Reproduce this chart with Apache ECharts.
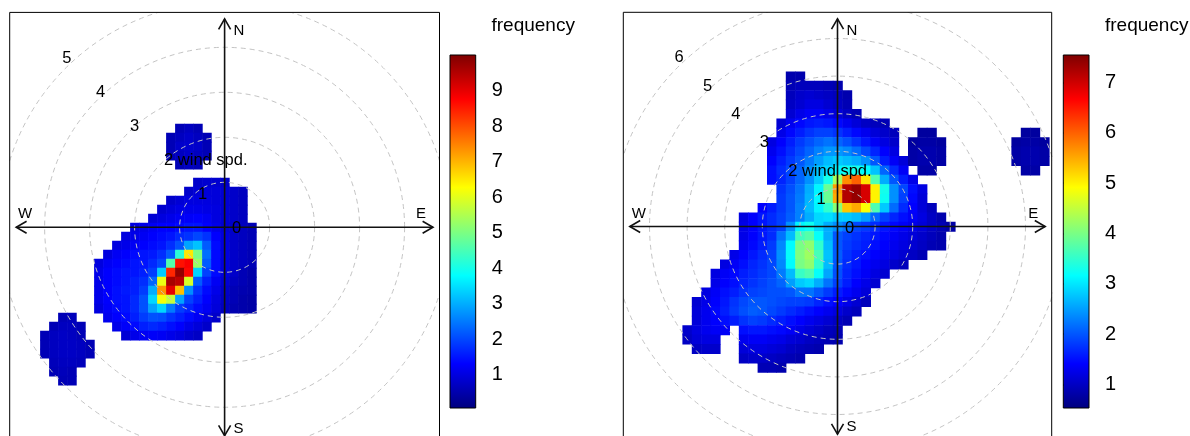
<!DOCTYPE html>
<html>
<head>
<meta charset="utf-8">
<script src="https://cdn.jsdelivr.net/npm/echarts@6/dist/echarts.min.js"></script>
<style>html,body{margin:0;padding:0;background:#fff}#c{width:1190px;height:436px}</style>
</head>
<body>
<div id="c"></div>
<script>
const _ = null;
const __ = n => Array(n).fill(null);

// ---------- LEFT PANEL DATA ----------
const leftCellX = [-4.0,-3.8,-3.6,-3.4,-3.2,-3.0,-2.8,-2.6,-2.4,-2.2,-2.0,-1.8,-1.6,-1.4,-1.2,-1.0,-0.8,-0.6,-0.4,-0.2,0.0,0.2,0.4,0.6,0.8];
const leftCellY = [2.2,2.0,1.8,1.6,1.4,1.2,1.0,0.8,0.6,0.4,0.2,0.0,-0.2,-0.4,-0.6,-0.8,-1.0,-1.2,-1.4,-1.6,-1.8,-2.0,-2.2,-2.4,-2.6,-2.8,-3.0,-3.2,-3.4];
const leftFreq = [
  [...__(15), .6, .7, .6],
  [...__(14), .6, .7, .8, .7, .6],
  [...__(14), .6, .8, .85, .8, .6],
  [...__(14), .6, .7, .8, .7, .6],
  [...__(15), .6, .7, .6],
  [],
  [...__(17), .8, .85, .85, .8],
  [...__(16), .8, .9, .95, .95, .9, .8, .7],
  [...__(14), .8, .9, 1.0, 1.0, 1.0, .95, .9, .8, .7],
  [...__(13), .85, .95, 1.05, 1.1, 1.1, 1.05, 1.0, .9, .8, .7],
  [...__(12), .9, 1.0, 1.1, 1.2, 1.25, 1.3, 1.2, 1.0, .9, .8, .7],
  [...__(10), 1.0, 1.1, 1.2, 1.3, 1.3, 1.4, 1.5, 1.5, 1.3, 1.1, .9, .8, .7, .6],
  [...__(9), 1.0, 1.1, 1.2, 1.3, 1.4, 1.5, 1.7, 1.8, 2.0, 1.8, 1.3, 1.0, .8, .7, .6],
  [...__(8), 1.0, 1.1, 1.2, 1.3, 1.4, 1.5, 1.75, 2.1, 2.9, 3.2, 2.2, 1.4, 1.0, .8, .7, .6],
  [...__(7), 1.0, 1.2, 1.3, 1.4, 1.5, 1.55, 1.75, 2.2, 4.2, 6.5, 5.0, 2.4, 1.4, 1.0, .8, .7, .6],
  [...__(6), 1.0, 1.2, 1.3, 1.4, 1.5, 1.5, 1.7, 2.0, 4.6, 8.6, 8.8, 5.3, 2.2, 1.4, 1.0, .8, .7, .6],
  [...__(6), 1.1, 1.3, 1.4, 1.5, 1.5, 1.6, 1.9, 3.3, 8.4, 9.8, 8.7, 3.4, 1.95, 1.4, 1.0, .8, .6, .5],
  [...__(6), 1.1, 1.3, 1.4, 1.5, 1.6, 1.75, 2.3, 6.1, 9.6, 9.4, 5.9, 2.2, 1.6, 1.2, .9, .7, .6, .5],
  [...__(6), 1.1, 1.3, 1.45, 1.55, 1.6, 1.9, 3.0, 7.3, 9.0, 6.9, 2.7, 1.8, 1.4, 1.1, .8, .6, .55, .5],
  [...__(6), 1.1, 1.3, 1.45, 1.5, 1.7, 2.1, 3.4, 6.2, 5.7, 2.9, 1.95, 1.6, 1.3, 1.0, .75, .6, .5, .45],
  [...__(6), 1.0, 1.25, 1.4, 1.5, 1.7, 2.1, 2.9, 3.4, 2.5, 1.9, 1.65, 1.4, 1.2, .95, .7, .55, .5, .45],
  [_, _, .6, .65, _, _, _, 1.15, 1.3, 1.4, 1.6, 1.9, 2.1, 2.05, 1.8, 1.6, 1.4, 1.2, 1.0, .8],
  [_, .6, .7, .7, .6, _, _, _, 1.1, 1.25, 1.4, 1.6, 1.7, 1.6, 1.45, 1.3, 1.1, .95, .8],
  [.6, .7, .75, .7, .6, _, _, _, _, .9, 1.1, 1.2, 1.25, 1.2, 1.1, 1.0, .85, .75],
  [.6, .7, .75, .75, .7, .6],
  [.6, .7, .75, .75, .7, .6],
  [_, .65, .7, .7, .65],
  [_, .6, .65, .6],
  [_, _, .6, .6]
];
const leftRings = [1, 2, 3, 4, 5];
const leftRingLabels = ['0', '1', '2 wind spd.', '3', '4', '5'];
const leftColorTicks = [1, 2, 3, 4, 5, 6, 7, 8, 9];
const leftColorRange = [0.07, 10.0];

// ---------- RIGHT PANEL DATA ----------
const rightCellX = [-4.0,-3.75,-3.5,-3.25,-3.0,-2.75,-2.5,-2.25,-2.0,-1.75,-1.5,-1.25,-1.0,-0.75,-0.5,-0.25,0,0.25,0.5,0.75,1.0,1.25,1.5,1.75,2.0,2.25,2.5,2.75,3.0,3.25,3.5,3.75,4.0,4.25,4.5,4.75,5.0,5.25,5.5];
const rightCellY = [4.0,3.75,3.5,3.25,3.0,2.75,2.5,2.25,2.0,1.75,1.5,1.25,1.0,0.75,0.5,0.25,0,-0.25,-0.5,-0.75,-1.0,-1.25,-1.5,-1.75,-2.0,-2.25,-2.5,-2.75,-3.0,-3.25,-3.5,-3.75,-4.0];
const rightFreq = [
  [...__(11), .85, .85],
  [...__(11), .9, .95, .95, .95, .9, .85],
  [...__(11), .95, 1.05, 1.1, 1.05, 1.0, .95, .85],
  [...__(11), 1.0, 1.1, 1.2, 1.2, 1.1, 1.0, .9],
  [...__(11), 1.1, 1.25, 1.35, 1.35, 1.25, 1.15, 1.0, .9],
  [...__(10), 1.1, 1.3, 1.45, 1.55, 1.6, 1.55, 1.45, 1.3, 1.15, 1.0, .95, .9],
  [...__(10), 1.25, 1.45, 1.6, 1.75, 1.85, 1.85, 1.75, 1.6, 1.45, 1.3, 1.15, 1.05, .95, _, _, .75, .75, ...__(9), .75, .75],
  [...__(9), 1.2, 1.4, 1.6, 1.8, 1.95, 2.1, 2.2, 2.1, 1.95, 1.75, 1.55, 1.35, 1.2, 1.05, _, .75, .8, .8, .75, ...__(7), .75, .8, .8, .75],
  [...__(9), 1.3, 1.5, 1.7, 1.9, 2.1, 2.3, 2.45, 2.45, 2.35, 2.15, 1.9, 1.65, 1.4, 1.2, _, .8, .85, .85, .8, ...__(7), .8, .85, .85, .8],
  [...__(9), 1.4, 1.6, 1.8, 2.0, 2.25, 2.5, 2.7, 2.8, 2.7, 2.6, 2.4, 2.0, 1.6, 1.35, 1.15, .8, .85, .85, .8, ...__(7), .8, .85, .85, .8],
  [...__(9), 1.5, 1.7, 1.9, 2.1, 2.4, 2.75, 2.9, 3.1, 3.25, 3.3, 3.15, 2.75, 2.1, 1.7, 1.35, _, .8, .8, ...__(9), .8, .8],
  [...__(9), 1.5, 1.65, 1.85, 2.1, 2.4, 2.8, 3.3, 4.3, 5.7, 6.0, 5.1, 3.7, 2.6, 2.0, 1.6, 1.25],
  [...__(10), 1.75, 1.95, 2.2, 2.6, 3.1, 3.9, 5.6, 7.2, 7.4, 6.95, 5.0, 3.3, 2.4, 1.9, 1.5, 1.2],
  [...__(10), 1.8, 2.0, 2.25, 2.65, 3.15, 3.9, 5.5, 7.2, 7.4, 6.95, 5.0, 3.25, 2.4, 1.85, 1.45, 1.15],
  [...__(8), 1.4, 1.6, 1.8, 2.0, 2.3, 2.7, 3.1, 3.5, 4.1, 5.3, 5.5, 4.9, 3.7, 2.8, 2.15, 1.7, 1.4, 1.15, .95],
  [...__(6), 1.2, 1.4, 1.55, 1.7, 1.85, 2.05, 2.3, 2.6, 2.9, 2.95, 2.8, 2.8, 2.7, 2.5, 2.1, 1.85, 1.65, 1.5, 1.35, 1.2, 1.0, .85],
  [...__(6), 1.25, 1.4, 1.55, 1.7, 1.85, 2.4, 3.1, 3.25, 2.9, 2.6, 2.4, 2.2, 1.9, 1.8, 1.7, 1.55, 1.45, 1.35, 1.25, 1.15, 1.0, .9, .8],
  [...__(6), 1.25, 1.4, 1.55, 1.7, 2.2, 2.7, 3.6, 3.75, 3.2, 2.6, 2.0, 1.85, 1.75, 1.65, 1.55, 1.45, 1.35, 1.25, 1.15, 1.05, .95, .85],
  [...__(6), 1.3, 1.45, 1.6, 1.8, 2.35, 3.15, 4.0, 4.15, 3.5, 2.7, 2.0, 1.8, 1.7, 1.6, 1.5, 1.4, 1.3, 1.2, 1.1, 1.0, .9, .85],
  [...__(5), 1.25, 1.4, 1.55, 1.7, 1.85, 2.4, 3.2, 4.05, 4.25, 3.65, 2.75, 2.05, 1.75, 1.6, 1.5, 1.4, 1.3, 1.2, 1.1, 1.0, .9],
  [...__(4), 1.2, 1.35, 1.5, 1.65, 1.75, 1.9, 2.35, 3.15, 4.0, 4.15, 3.5, 2.7, 2.0, 1.7, 1.55, 1.4, 1.3, 1.2, 1.05, .95],
  [...__(3), 1.2, 1.35, 1.45, 1.6, 1.7, 1.8, 1.9, 2.25, 2.7, 3.55, 3.7, 3.2, 2.55, 1.95, 1.65, 1.5, 1.35, 1.2, 1.1],
  [...__(3), 1.25, 1.4, 1.5, 1.65, 1.75, 1.85, 1.95, 2.1, 2.5, 2.8, 2.9, 2.6, 2.2, 1.85, 1.6, 1.4, 1.25, 1.1],
  [...__(2), 1.2, 1.35, 1.5, 1.6, 1.75, 1.85, 1.9, 1.95, 1.95, 2.0, 2.2, 2.2, 2.0, 1.8, 1.6, 1.45, 1.3, 1.15],
  [_, 1.1, 1.25, 1.4, 1.55, 1.75, 1.9, 2.0, 2.0, 1.95, 1.9, 1.85, 1.85, 1.8, 1.65, 1.5, 1.4, 1.25, 1.1, .95],
  [_, 1.15, 1.3, 1.45, 1.6, 1.8, 1.95, 2.05, 2.0, 1.9, 1.8, 1.7, 1.6, 1.5, 1.4, 1.3, 1.2, 1.05, .95],
  [_, 1.15, 1.3, 1.4, 1.5, 1.6, 1.75, 1.85, 1.8, 1.7, 1.6, 1.5, 1.4, 1.3, 1.2, 1.1, 1.0, .9],
  [1.05, 1.2, 1.3, 1.35, 1.35, _, 1.5, 1.55, 1.55, 1.5, 1.45, 1.35, 1.25, 1.15, 1.05, .95, .9],
  [1.0, 1.15, 1.2, 1.2, _, _, 1.3, 1.35, 1.35, 1.3, 1.25, 1.15, 1.1, 1.0, .95, .9, .85],
  [_, 1.0, 1.05, 1.05, _, _, 1.15, 1.2, 1.2, 1.15, 1.1, 1.0, .95, .9, .85],
  [...__(6), 1.0, 1.05, 1.05, 1.0, .95, .9, .85],
  [...__(8), .9, .9, .85],
  []
];
const rightRings = [1, 2, 3, 4, 5, 6];
const rightRingLabels = ['0', '1', '2 wind spd.', '3', '4', '5', '6'];
const rightColorTicks = [1, 2, 3, 4, 5, 6, 7];
const rightColorRange = [0.53, 7.55];

const compass = ['N', 'E', 'S', 'W'];
const colorbarTitle = 'frequency';

// ---------- STYLE / LAYOUT ----------
const FONT = 'Liberation Sans, Arial, Helvetica, sans-serif';
const jet = ['#00007F','#0000FF','#007FFF','#00FFFF','#7FFF7F','#FFFF00','#FF7F00','#FF0000','#7F0000'];
const panelL = { left: 9.7, top: 12.4, size: 429.8, half: 4.776 };
const panelR = { left: 623.3, top: 12.3, size: 428.4, half: 5.697 };
const cbarL = { left: 450, top: 55, width: 25.7, height: 353 };
const cbarR = { left: 1063.3, top: 55, width: 25.7, height: 353 };

function toCells(xs, ys, m) {
  const out = [];
  m.forEach((row, j) => row.forEach((v, i) => { if (v !== null && v !== undefined) out.push([xs[i], ys[j], v]); }));
  return out;
}

function cellRenderer(half) {
  return function (params, api) {
    const x = api.value(0), y = api.value(1);
    const p0 = api.coord([x - half, y + half]);
    const p1 = api.coord([x + half, y - half]);
    return { type: 'rect', shape: { x: p0[0], y: p0[1], width: p1[0] - p0[0] + 0.6, height: p1[1] - p0[1] + 0.6 },
      style: { fill: api.visual('color') } };
  };
}
function ringRenderer(params, api) {
  const c = api.coord([0, 0]);
  const e = api.coord([api.value(0), 0]);
  return { type: 'circle', shape: { cx: c[0], cy: c[1], r: e[0] - c[0] },
    style: { fill: null, stroke: '#c4c4c4', lineWidth: 1, lineDash: [5, 4] } };
}
function compassRenderer(halfRange) {
  return function (params, api) {
    const name = compass[params.dataIndex];
    const c = api.coord([0, 0]);
    const len = api.coord([halfRange, 0])[0] - c[0] - 6.5;
    const d = { N: [0, -1], E: [1, 0], S: [0, 1], W: [-1, 0] }[name];
    const tip = [c[0] + d[0] * len, c[1] + d[1] * len];
    const a = Math.PI / 6, L = 12;
    const rot = (v, t) => [v[0] * Math.cos(t) - v[1] * Math.sin(t), v[0] * Math.sin(t) + v[1] * Math.cos(t)];
    const b1 = rot([-d[0], -d[1]], a), b2 = rot([-d[0], -d[1]], -a);
    const lbl = { N: [9, 12, 'left'], S: [9, -7, 'left'], W: [9, -13, 'center'], E: [-12, -13, 'center'] }[name];
    return { type: 'group', children: [
      { type: 'line', shape: { x1: c[0], y1: c[1], x2: tip[0], y2: tip[1] }, style: { stroke: '#111', lineWidth: 1.6 } },
      { type: 'polyline', shape: { points: [[tip[0] + b1[0] * L, tip[1] + b1[1] * L], tip, [tip[0] + b2[0] * L, tip[1] + b2[1] * L]] },
        style: { stroke: '#111', lineWidth: 1.6, fill: null } },
      { type: 'text', x: tip[0] + lbl[0], y: tip[1] + lbl[1],
        style: { text: name, fontSize: 15, fontFamily: FONT, fill: '#000', align: lbl[2], verticalAlign: 'middle' } }
    ] };
  };
}
function ringLabelRenderer(labels) {
  return function (params, api) {
    const p = api.coord([api.value(0), api.value(1)]);
    return { type: 'text', x: p[0] + 12 - 4.6, y: p[1] + 1.5,
      style: { text: labels[params.dataIndex], fontSize: 16.5, fontFamily: FONT, fill: '#000', align: 'left', verticalAlign: 'middle' } };
  };
}
function colorbarRenderer(range) {
  return function (params, api) {
    const p0 = api.coord([0, range[1]]);
    const p1 = api.coord([1, range[0]]);
    return { type: 'rect', shape: { x: p0[0], y: p0[1], width: p1[0] - p0[0], height: p1[1] - p0[1] },
      style: { fill: { type: 'linear', x: 0, y: 1, x2: 0, y2: 0,
        colorStops: jet.map((c, i) => ({ offset: i / (jet.length - 1), color: c })) } } };
  };
}

function panelGrid(p) {
  return { left: p.left, top: p.top, width: p.size, height: p.size, show: true, borderColor: '#000', borderWidth: 1,
    backgroundColor: 'transparent', z: 5, outerBoundsMode: 'none', containLabel: false };
}
function cbarGrid(b) {
  return { left: b.left, top: b.top, width: b.width, height: b.height, show: true, borderColor: '#000', borderWidth: 1,
    backgroundColor: 'transparent', z: 5, outerBoundsMode: 'none', containLabel: false };
}
function panelAxis(gi, half) { return { gridIndex: gi, type: 'value', min: -half, max: half, show: false }; }
function cbarY(gi, range, ticks) {
  return { gridIndex: gi, type: 'value', min: range[0], max: range[1], position: 'right',
    axisLine: { show: false }, splitLine: { show: false },
    axisTick: { show: true, customValues: ticks, length: 7, inside: false, lineStyle: { color: '#000', width: 1.5 } },
    axisLabel: { show: true, customValues: ticks, fontSize: 20, fontFamily: FONT, color: '#000', margin: 16 } };
}

const option = {
  animation: false,
  backgroundColor: '#fff',
  title: [
    { text: colorbarTitle, left: 491.5, top: 16, padding: 0, textStyle: { fontSize: 19, fontWeight: 'normal', color: '#000', fontFamily: FONT } },
    { text: colorbarTitle, left: 1105, top: 16, padding: 0, textStyle: { fontSize: 19, fontWeight: 'normal', color: '#000', fontFamily: FONT } }
  ],
  grid: [panelGrid(panelL), cbarGrid(cbarL), panelGrid(panelR), cbarGrid(cbarR)],
  xAxis: [
    panelAxis(0, panelL.half),
    { gridIndex: 1, type: 'value', min: 0, max: 1, show: false },
    panelAxis(2, panelR.half),
    { gridIndex: 3, type: 'value', min: 0, max: 1, show: false }
  ],
  yAxis: [
    panelAxis(0, panelL.half),
    cbarY(1, leftColorRange, leftColorTicks),
    panelAxis(2, panelR.half),
    cbarY(3, rightColorRange, rightColorTicks)
  ],
  visualMap: [
    { type: 'continuous', show: false, seriesIndex: 0, dimension: 2, min: leftColorRange[0], max: leftColorRange[1], inRange: { color: jet } },
    { type: 'continuous', show: false, seriesIndex: 5, dimension: 2, min: rightColorRange[0], max: rightColorRange[1], inRange: { color: jet } }
  ],
  series: [
    { type: 'custom', xAxisIndex: 0, yAxisIndex: 0, clip: true, z: 2, silent: true,
      renderItem: cellRenderer((leftCellX[1] - leftCellX[0]) / 2), data: toCells(leftCellX, leftCellY, leftFreq) },
    { type: 'custom', xAxisIndex: 0, yAxisIndex: 0, clip: true, z: 3, silent: true,
      renderItem: ringRenderer, data: leftRings.map(r => [r, 0]) },
    { type: 'custom', xAxisIndex: 0, yAxisIndex: 0, clip: false, z: 4, silent: true,
      renderItem: compassRenderer(panelL.half), data: compass.map(() => [0, 0]) },
    { type: 'custom', xAxisIndex: 0, yAxisIndex: 0, clip: false, z: 6, silent: true,
      renderItem: ringLabelRenderer(leftRingLabels), data: leftRingLabels.map((t, v) => [-0.755 * v, 0.755 * v]) },
    { type: 'custom', xAxisIndex: 1, yAxisIndex: 1, clip: false, z: 2, silent: true,
      renderItem: colorbarRenderer(leftColorRange), data: [[0, leftColorRange[0]]] },

    { type: 'custom', xAxisIndex: 2, yAxisIndex: 2, clip: true, z: 2, silent: true,
      renderItem: cellRenderer((rightCellX[1] - rightCellX[0]) / 2), data: toCells(rightCellX, rightCellY, rightFreq) },
    { type: 'custom', xAxisIndex: 2, yAxisIndex: 2, clip: true, z: 3, silent: true,
      renderItem: ringRenderer, data: rightRings.map(r => [r, 0]) },
    { type: 'custom', xAxisIndex: 2, yAxisIndex: 2, clip: false, z: 4, silent: true,
      renderItem: compassRenderer(panelR.half), data: compass.map(() => [0, 0]) },
    { type: 'custom', xAxisIndex: 2, yAxisIndex: 2, clip: false, z: 6, silent: true,
      renderItem: ringLabelRenderer(rightRingLabels), data: rightRingLabels.map((t, v) => [-0.755 * v, 0.755 * v]) },
    { type: 'custom', xAxisIndex: 3, yAxisIndex: 3, clip: false, z: 2, silent: true,
      renderItem: colorbarRenderer(rightColorRange), data: [[0, rightColorRange[0]]] }
  ]
};

const chart = echarts.init(document.getElementById('c'), null, { renderer: 'canvas' });
chart.setOption(option);
</script>
</body>
</html>
